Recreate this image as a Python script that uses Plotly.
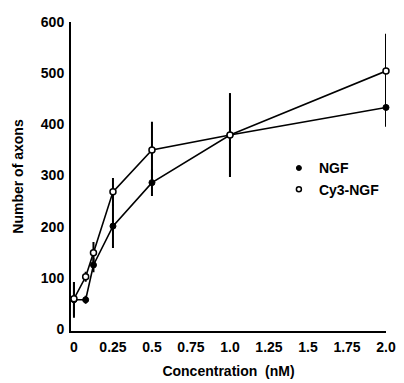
import plotly.graph_objects as go

conc = [0, 0.075, 0.125, 0.25, 0.5, 1.0, 2.0]
ngf = [57, 57, 125, 201, 286, 379, 433]
ngf_err = [33, 6, 12, 41, 24, 80, 36]
cy3 = [59, 102, 149, 268, 350, 379, 504]
cy3_err = [31, 8, 19, 25, 53, 80, 71]

x_tickvals = [0, 0.25, 0.5, 0.75, 1.0, 1.25, 1.5, 1.75, 2.0]
x_ticktext = ["0", "0.25", "0.5", "0.75", "1.0", "1.25", "1.5", "1.75", "2.0"]
y_tickvals = [0, 100, 200, 300, 400, 500, 600]

FONT = "Liberation Sans, Arial, sans-serif"

fig = go.Figure()

fig.add_trace(go.Scatter(
    x=conc, y=ngf, mode="lines+markers", name="NGF", showlegend=False,
    line=dict(color="black", width=1.6),
    marker=dict(symbol="circle", size=6, color="black", line=dict(color="black", width=1)),
    error_y=dict(type="data", array=ngf_err, visible=True, color="black", thickness=2, width=1),
    cliponaxis=False,
))
fig.add_trace(go.Scatter(
    x=conc, y=cy3, mode="lines+markers", name="Cy3-NGF", showlegend=False,
    line=dict(color="black", width=1.6),
    marker=dict(symbol="circle", size=6, color="white", line=dict(color="black", width=1.5)),
    error_y=dict(type="data", array=cy3_err, visible=True, color="black", thickness=2, width=1),
    cliponaxis=False,
))
# legend entries (markers only, as in the reference)
fig.add_trace(go.Scatter(
    x=[None], y=[None], mode="markers", name="NGF",
    marker=dict(symbol="circle", size=5, color="black", line=dict(color="black", width=1)),
))
fig.add_trace(go.Scatter(
    x=[None], y=[None], mode="markers", name="Cy3-NGF",
    marker=dict(symbol="circle", size=5, color="white", line=dict(color="black", width=1.5)),
))

fig.update_layout(
    width=404, height=383,
    margin=dict(l=71, r=18, t=22, b=52),
    paper_bgcolor="white", plot_bgcolor="white",
    font=dict(family=FONT, size=14, color="black", weight="bold"),
    showlegend=True,
    legend=dict(
        x=0.66, y=0.578, xanchor="left", yanchor="top",
        bgcolor="rgba(0,0,0,0)", itemwidth=30, tracegroupgap=0,
        font=dict(family=FONT, size=14, color="black", weight="bold"),
    ),
    xaxis=dict(
        range=[-0.019, 2.0], tickvals=x_tickvals, ticktext=x_ticktext,
        showgrid=False, zeroline=False, showline=True, linecolor="black", linewidth=2,
        ticks="", ticklabelstandoff=2, tickfont=dict(size=14, weight="bold"),
        automargin=False,
        title=dict(text="Concentration  (nM)", standoff=12, font=dict(size=14, weight="bold")),
    ),
    yaxis=dict(
        range=[-4, 600], tickvals=y_tickvals,
        showgrid=False, zeroline=False, showline=True, linecolor="black", linewidth=2,
        ticks="", ticklabelstandoff=2, tickfont=dict(size=14, weight="bold"),
        automargin=False,
        title=dict(text="Number of axons", standoff=14, font=dict(size=14, weight="bold")),
    ),
)

fig.write_html("out.html")
